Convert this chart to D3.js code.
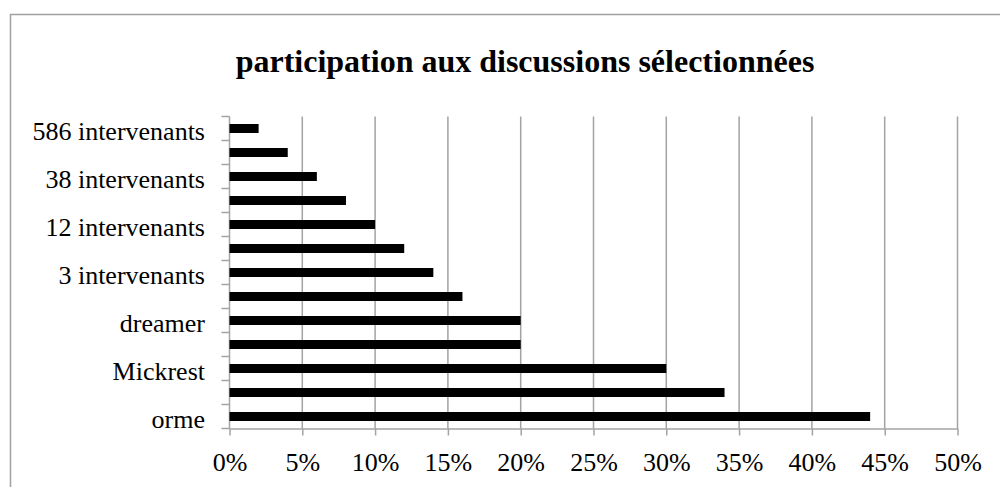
<!DOCTYPE html>
<html>
<head>
<meta charset="utf-8">
<script src="https://cdn.jsdelivr.net/npm/d3@7"></script>
<style>
  html, body { margin: 0; padding: 0; background: #fff; }
  svg { display: block; }
</style>
</head>
<body>
<svg id="chart" width="1000" height="487"></svg>
<script>
// Data (bottom to top, as in the chart)
const categories = ["orme", "", "Mickrest", "", "dreamer", "", "3 intervenants", "", "12 intervenants", "", "38 intervenants", "", "586 intervenants"];
const values = [0.44, 0.34, 0.30, 0.20, 0.20, 0.16, 0.14, 0.12, 0.10, 0.08, 0.06, 0.04, 0.02];
const xTicks = [0, 0.05, 0.10, 0.15, 0.20, 0.25, 0.30, 0.35, 0.40, 0.45, 0.50];
const title = "participation aux discussions sélectionnées";

(function () {
const svg = d3.select("#chart");
const font = "'Liberation Serif', 'Times New Roman', serif";
const gridColor = "#a3a3a3";

// chart frame
svg.append("rect")
  .attr("x", 10.5).attr("y", 14.5)
  .attr("width", 1100).attr("height", 600)
  .attr("fill", "#fff")
  .attr("stroke", "#a0a0a0").attr("stroke-width", 1.5);

const pLeft = 229.5, pRight = 957.5, pTop = 116.5, pBottom = 428.5;

const x = d3.scaleLinear().domain([0, 0.5]).range([pLeft, pRight]);
const idx = d3.range(categories.length);
const y = d3.scaleBand()
  .domain(idx.slice().reverse())
  .range([pTop, pBottom])
  .paddingInner(0.625)
  .paddingOuter(0.3125);

// title
svg.append("text")
  .attr("x", 525).attr("y", 72)
  .attr("text-anchor", "middle")
  .attr("font-family", font)
  .attr("font-weight", "bold")
  .attr("font-size", 32)
  .attr("fill", "#000")
  .text(title);

// gridlines
svg.append("g").selectAll("line")
  .data(xTicks.slice(1))
  .join("line")
  .attr("x1", d => x(d)).attr("x2", d => x(d))
  .attr("y1", pTop).attr("y2", pBottom)
  .attr("stroke", gridColor).attr("stroke-width", 1.5);

// x axis
const xAxis = svg.append("g")
  .attr("transform", `translate(0,${pBottom})`)
  .call(d3.axisBottom(x).tickValues(xTicks).tickFormat(d3.format(".0%")).tickSizeInner(7).tickSizeOuter(0).tickPadding(10));
xAxis.select(".domain").attr("stroke", gridColor).attr("stroke-width", 1.5);
xAxis.selectAll(".tick line").attr("stroke", gridColor).attr("stroke-width", 1.5);
xAxis.selectAll(".tick text")
  .attr("font-family", font).attr("font-size", 26).attr("fill", "#000")
  .attr("dy", null).attr("y", 42);

// y axis line and category boundary ticks
const step = y.step();
const boundaries = d3.range(categories.length + 1).map(i => pTop + i * step);
svg.append("line")
  .attr("x1", pLeft).attr("x2", pLeft)
  .attr("y1", pTop).attr("y2", pBottom)
  .attr("stroke", gridColor).attr("stroke-width", 1.5);
svg.append("g").selectAll("line")
  .data(boundaries)
  .join("line")
  .attr("x1", pLeft - 8).attr("x2", pLeft)
  .attr("y1", d => d).attr("y2", d => d)
  .attr("stroke", gridColor).attr("stroke-width", 1.5);

// y labels
svg.append("g").selectAll("text")
  .data(idx.filter(i => categories[i] !== ""))
  .join("text")
  .attr("x", 205)
  .attr("y", i => y(i) + y.bandwidth() / 2 + 11.5)
  .attr("text-anchor", "end")
  .attr("font-family", font).attr("font-size", 26).attr("fill", "#000")
  .text(i => categories[i]);

// bars
svg.append("g").selectAll("rect")
  .data(idx)
  .join("rect")
  .attr("x", x(0))
  .attr("y", i => y(i))
  .attr("width", i => x(values[i]) - x(0))
  .attr("height", y.bandwidth())
  .attr("fill", "#000");
})();
</script>
</body>
</html>
